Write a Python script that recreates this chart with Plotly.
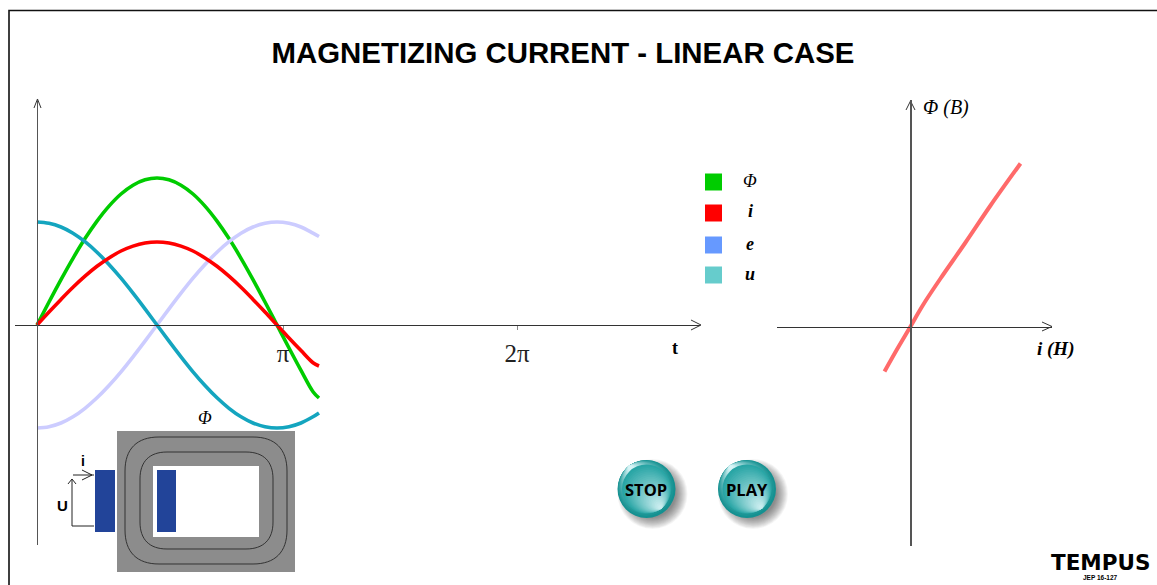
import plotly.graph_objects as go

W, H = 1157, 585

# ---- data ----
t_pi = [0, .05, .10, .15, .20, .25, .30, .35, .40, .45, .50, .55, .60, .65, .70, .75, .80, .85, .90, .95, 1.00, 1.05, 1.10, 1.15, 1.175]
flux = [0, 23, 45.4, 66.7, 86.4, 103.9, 118.9, 131, 139.8, 145.2, 147, 145.2, 139.8, 131, 118.9, 103.9, 86.4, 66.7, 45.4, 23, 0, -23, -45.4, -66.7, -73]
current = [0, 13, 25.6, 37.7, 48.8, 58.7, 67.1, 74, 78.9, 82, 83, 82, 78.9, 74, 67.1, 58.7, 48.8, 37.7, 25.6, 13, 0, -13, -25.6, -37.7, -41]
emf = [-103, -101.7, -98, -91.8, -83.3, -72.8, -60.5, -46.8, -31.8, -16.1, 0, 16.1, 31.8, 46.8, 60.5, 72.8, 83.3, 91.8, 98, 101.7, 103, 101.7, 98, 91.8, 88.5]
voltage = [103, 101.7, 98, 91.8, 83.3, 72.8, 60.5, 46.8, 31.8, 16.1, 0, -16.1, -31.8, -46.8, -60.5, -72.8, -83.3, -91.8, -98, -101.7, -103, -101.7, -98, -91.8, -88]

mag_h = [-0.26, -0.13, 0, 0.08, 0.15, 0.30, 0.55, 0.80, 1.10]
mag_b = [-0.45, -0.22, 0, 0.14, 0.255, 0.48, 0.84, 1.21, 1.63]

x_ticks = [1.025, 2]
x_tick_labels = ["π", "2π"]
legend_names = ["Φ", "i", "e", "u"]
legend_colors = ["#00cc00", "#ff0000", "#6699ff", "#66cccc"]

SERIF = "Liberation Serif"
SANS = "Liberation Sans"


def px(x):
    return x / W


def py(y):
    return 1 - y / H


def P(pts, close=False):
    s = "M" + " L".join(f"{px(x):.5f},{py(y):.5f}" for x, y in pts)
    return s + (" Z" if close else "")


shapes = []
ann = []


def poly(pts, color, width=1.0):
    shapes.append(dict(type="path", xref="paper", yref="paper", path=P(pts),
                       line=dict(color=color, width=width), layer="below"))


def rect(x0, y0, x1, y1, fill):
    shapes.append(dict(type="rect", xref="paper", yref="paper", x0=px(x0), x1=px(x1), y0=py(y0), y1=py(y1),
                       fillcolor=fill, line=dict(width=0), layer="below"))


def disc(cx, cy, r, fill, opacity=1.0):
    shapes.append(dict(type="circle", xref="paper", yref="paper", x0=px(cx - r), x1=px(cx + r),
                       y0=py(cy + r), y1=py(cy - r), fillcolor=fill, opacity=opacity,
                       line=dict(width=0), layer="below"))


def text(x, y, s, size, font=SERIF, color="#000000"):
    ann.append(dict(xref="paper", yref="paper", x=px(x), y=py(y), text=s, showarrow=False,
                    xanchor="center", yanchor="middle", font=dict(family=font, size=size, color=color)))


def round_rect(x0, y0, x1, y1, r):
    k = r * 0.35
    f = lambda x, y: f"{px(x):.5f},{py(y):.5f}"
    return (f"M{f(x0 + r, y0)} L{f(x1 - r, y0)} C{f(x1 - k, y0)} {f(x1, y0 + k)} {f(x1, y0 + r)} "
            f"L{f(x1, y1 - r)} C{f(x1, y1 - k)} {f(x1 - k, y1)} {f(x1 - r, y1)} "
            f"L{f(x0 + r, y1)} C{f(x0 + k, y1)} {f(x0, y1 - k)} {f(x0, y1 - r)} "
            f"L{f(x0, y0 + r)} C{f(x0, y0 + k)} {f(x0 + k, y0)} {f(x0 + r, y0)} Z")


# page frame
poly([(9, H), (9, 10.5), (W, 10.5)], "#111111", 1.6)

# axis arrowheads
AX = "#333333"
poly([(34, 108), (37.5, 99), (41, 108)], AX, 1)
poly([(691, 320), (701, 325), (691, 330)], AX, 1)
poly([(906, 110), (910.5, 101), (915, 110)], AX, 1)
poly([(1042, 322), (1052, 326.5), (1042, 331)], AX, 1)

# legend swatches and labels
for y, c in zip([182, 213, 245, 275], legend_colors):
    rect(705, y - 8.5, 722, y + 8.5, c)
for y, n, w in zip([181, 211, 244, 274], legend_names, [0, 1, 1, 1]):
    label = f"<b><i>{n}</i></b>" if w else f"<i>{n}</i>"
    text(750.5, y, label, 18)

# transformer core
rect(117, 431, 295, 572, "#8c8c8c")
rect(153, 466, 259, 537, "#ffffff")
for p in [round_rect(125, 437, 287, 564, 34), round_rect(140, 452, 273, 549, 27)]:
    shapes.append(dict(type="path", xref="paper", yref="paper", path=p,
                       line=dict(color="#333333", width=1), layer="below"))
rect(95, 470, 115, 532, "#224499")
rect(157, 470, 176, 532, "#224499")
poly([(73, 475), (94, 475)], "#222222", 1)
poly([(82, 470), (92, 475), (82, 480)], "#222222", 1)
poly([(94, 526), (72, 526), (72, 480)], "#222222", 1)
poly([(68, 484), (72, 479), (76, 484)], "#222222", 1)
text(83, 461, "<b>i</b>", 14, SANS)
text(62, 505, "<b>U</b>", 15, SANS)
text(205, 418, "<i>Φ</i>", 18)


# buttons
def mix(a, b, f):
    return "#" + "".join(f"{round(a[i] + (b[i] - a[i]) * f):02x}" for i in range(3))


def gradient_disc(cx, cy, r, dark, light, dx, dy, n=24):
    for k in range(n):
        f = k / (n - 1)
        rr = r * (1 - 0.92 * f)
        off = r - rr
        disc(cx + dx * off, cy + dy * off, rr, mix(dark, light, f))


for cx, cy, label in [(646.5, 489, "STOP"), (747, 489, "PLAY")]:
    for k in range(14):
        disc(cx + 6, cy + 5, 35 - k * 0.9, "#000000", 0.04)
    gradient_disc(cx, cy, 29, (20, 145, 145), (215, 245, 247), -0.6, -0.8)
    gradient_disc(cx, cy, 24.5, (40, 165, 165), (200, 236, 238), 0.6, 0.8)
    text(cx, cy, f"<b>{label}</b>", 16.5, "Open Sans")

# texts
text(675, 348, "<b>t</b>", 18)
text(946, 107, "<i>Φ (B)</i>", 20)
text(1055, 349, "<b><i>i (H)</i></b>", 19)
text(1100, 562.5, "<b>TEMPUS</b>", 21.5, "DejaVu Sans")
text(1100, 577.5, "<b>JEP 16-127</b>", 6.5, SANS)

fig = go.Figure()
for name, ys, color in [("Φ", flux, "#00cc00"), ("e", emf, "#ccccff"), ("u", voltage, "#14a5bf"), ("i", current, "#ff0000")]:
    fig.add_trace(go.Scatter(x=t_pi, y=ys, name=name, mode="lines", line=dict(color=color, width=3.6, shape="spline"),
                             xaxis="x", yaxis="y", showlegend=False))
fig.add_trace(go.Scatter(x=mag_h, y=mag_b, name="i(Φ)", mode="lines", line=dict(color="#ff6a6a", width=4, shape="spline"),
                         xaxis="x2", yaxis="y2", showlegend=False))

# left axes: origin (37, 325), 240 px per π, 1 unit per px
L_X0, L_X1, L_Y0, L_Y1 = 15, 700, 545, 100
# right axes: origin (910.5, 326.5), 100 px per unit
R_X0, R_X1, R_Y0, R_Y1 = 777, 1052, 546, 100

fig.update_layout(
    width=W, height=H, margin=dict(l=0, r=0, t=0, b=0), autosize=False,
    paper_bgcolor="#ffffff", plot_bgcolor="rgba(0,0,0,0)",
    title=dict(text="<b>MAGNETIZING CURRENT - LINEAR CASE</b>", x=563 / W, y=py(53), xref="paper", yref="paper",
               xanchor="center", yanchor="middle", font=dict(family=SANS, size=29.4, color="#000000")),
    xaxis=dict(domain=[px(L_X0), px(L_X1)], range=[(L_X0 - 37) / 240, (L_X1 - 37) / 240],
               anchor="free", position=py(325), showgrid=False, zeroline=False, showline=True, linecolor=AX, linewidth=1.2,
               tickmode="array", tickvals=x_ticks, ticktext=x_tick_labels, ticks="outside", ticklen=4, tickcolor="#888888",
               tickfont=dict(family=SERIF, size=25, color="#222222"), ticklabelstandoff=2),
    yaxis=dict(domain=[py(L_Y0), py(L_Y1)], range=[325 - L_Y0, 325 - L_Y1],
               anchor="free", position=px(37), showgrid=False, zeroline=False, showline=True, linecolor="#555555", linewidth=1.2,
               showticklabels=False, ticks=""),
    xaxis2=dict(domain=[px(R_X0), px(R_X1)], range=[(R_X0 - 910.5) / 100, (R_X1 - 910.5) / 100],
                anchor="free", position=py(326.5), showgrid=False, zeroline=False, showline=True, linecolor=AX, linewidth=1.2,
                showticklabels=False, ticks=""),
    yaxis2=dict(domain=[py(R_Y0), py(R_Y1)], range=[(326.5 - R_Y0) / 100, (326.5 - R_Y1) / 100],
                anchor="free", position=px(910.5), showgrid=False, zeroline=False, showline=True, linecolor="#555555", linewidth=1.5,
                showticklabels=False, ticks=""),
    shapes=shapes, annotations=ann, showlegend=False,
)
fig.write_html("out.html", config=dict(displayModeBar=False),
               post_script="document.body.style.margin='0';document.documentElement.style.overflow='hidden';")
